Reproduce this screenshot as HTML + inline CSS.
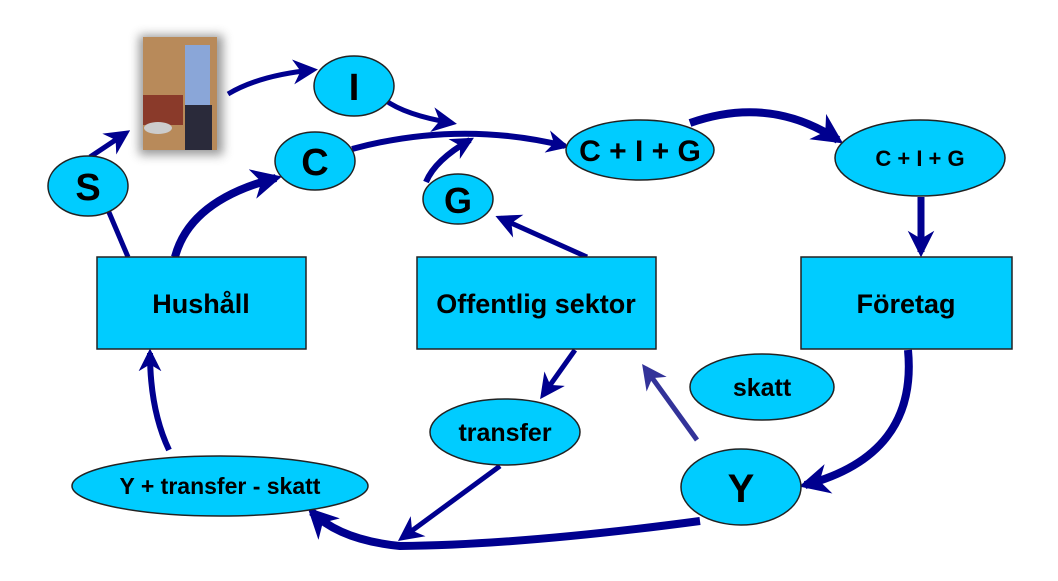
<!DOCTYPE html>
<html><head><meta charset="utf-8"><style>
html,body{margin:0;padding:0;background:#fff;width:1058px;height:581px;overflow:hidden}
text{font-family:"Liberation Sans",Arial,sans-serif;font-weight:bold;fill:#000}
</style></head><body>
<svg width="1058" height="581" viewBox="0 0 1058 581" xmlns="http://www.w3.org/2000/svg">
<defs>
<marker id="a" viewBox="0 0 10 10" refX="8" refY="5" markerWidth="5" markerHeight="5" orient="auto" markerUnits="strokeWidth"><path d="M0,0 L10,5 L0,10 L3,5 z" fill="#00008f"/></marker>
<marker id="b" viewBox="0 0 10 10" refX="8" refY="5" markerWidth="3.8" markerHeight="3.8" orient="auto" markerUnits="strokeWidth"><path d="M0,0 L10,5 L0,10 L3,5 z" fill="#00008f"/></marker>
<marker id="c" viewBox="0 0 10 10" refX="8" refY="5" markerWidth="5" markerHeight="5" orient="auto" markerUnits="strokeWidth"><path d="M0,0 L10,5 L0,10 L3,5 z" fill="#333399"/></marker>
<filter id="sh" x="-30%" y="-30%" width="160%" height="160%"><feGaussianBlur stdDeviation="5"/></filter>
</defs>
<g fill="none" stroke="#00008f" stroke-linecap="butt">
<path d="M90,157 L126,133" stroke-width="5" marker-end="url(#a)"/>
<path d="M228,94 Q260,75 313,70" stroke-width="5" marker-end="url(#a)"/>
<path d="M385,100 Q405,115 452,123" stroke-width="5" marker-end="url(#a)"/>
<path d="M352,149 Q460,120 565,146" stroke-width="6" marker-end="url(#b)"/>
<path d="M426,182 Q435,160 470,140" stroke-width="6" marker-end="url(#b)"/>
<path d="M108,210 L128,257" stroke-width="5"/>
<path d="M175,257 Q190,200 276,178" stroke-width="8" marker-end="url(#b)"/>
<path d="M690,123 Q770,95 838,140" stroke-width="8" marker-end="url(#b)"/>
<path d="M921,197 L921,252" stroke-width="7" marker-end="url(#b)"/>
<path d="M908,350 Q918,455 805,485" stroke-width="8" marker-end="url(#b)"/>
<path d="M700,521 Q520,545 400,546 Q340,540 312,512" stroke-width="8" marker-end="url(#b)"/>
<path d="M575,350 L543,395" stroke-width="5" marker-end="url(#a)"/>
<path d="M500,466 L402,538" stroke-width="5" marker-end="url(#a)"/>
<path d="M587,257 L500,218" stroke-width="5" marker-end="url(#a)"/>
<path d="M169,450 Q150,410 150,353" stroke-width="6" marker-end="url(#b)"/>
<path d="M697,440 L645,368" stroke="#333399" stroke-width="5" marker-end="url(#c)"/>
</g>
<rect x="139" y="35" width="84" height="120" fill="#555" filter="url(#sh)" opacity="0.6"/>
<rect x="143" y="37" width="74" height="113" fill="#b88a5a"/>
<rect x="185" y="45" width="25" height="60" fill="#8aa6d8"/>
<rect x="185" y="105" width="27" height="45" fill="#2a2a3a"/>
<rect x="143" y="95" width="40" height="30" fill="#8a3a2a"/>
<ellipse cx="158" cy="128" rx="14" ry="6" fill="#ccc"/>
<g fill="#00ccff" stroke="#222" stroke-width="1.5">
<ellipse cx="88" cy="186" rx="40" ry="30"/>
<ellipse cx="354" cy="86" rx="40" ry="30"/>
<ellipse cx="315" cy="161" rx="40" ry="29"/>
<ellipse cx="458" cy="199" rx="35" ry="25"/>
<ellipse cx="640" cy="150" rx="74" ry="30"/>
<ellipse cx="920" cy="158" rx="85" ry="38"/>
<ellipse cx="762" cy="387" rx="72" ry="33"/>
<ellipse cx="505" cy="432" rx="75" ry="33"/>
<ellipse cx="741" cy="487" rx="60" ry="38"/>
<ellipse cx="220" cy="486" rx="148" ry="30"/>
<rect x="97" y="257" width="209" height="92"/>
<rect x="417" y="257" width="239" height="92"/>
<rect x="801" y="257" width="211" height="92"/>
</g>
<g text-anchor="middle">
<text x="88" y="200" font-size="38">S</text>
<text x="354" y="100" font-size="38">I</text>
<text x="315" y="175" font-size="38">C</text>
<text x="458" y="213" font-size="36">G</text>
<text x="640" y="161" font-size="30">C + I + G</text>
<text x="920" y="166" font-size="22">C + I + G</text>
<text x="762" y="396" font-size="25">skatt</text>
<text x="505" y="441" font-size="25">transfer</text>
<text x="741" y="502" font-size="40">Y</text>
<text x="220" y="494" font-size="23">Y + transfer - skatt</text>
<text x="201" y="313" font-size="27">Hushåll</text>
<text x="536" y="313" font-size="27">Offentlig sektor</text>
<text x="906" y="313" font-size="27">Företag</text>
</g>
</svg>
</body></html>
